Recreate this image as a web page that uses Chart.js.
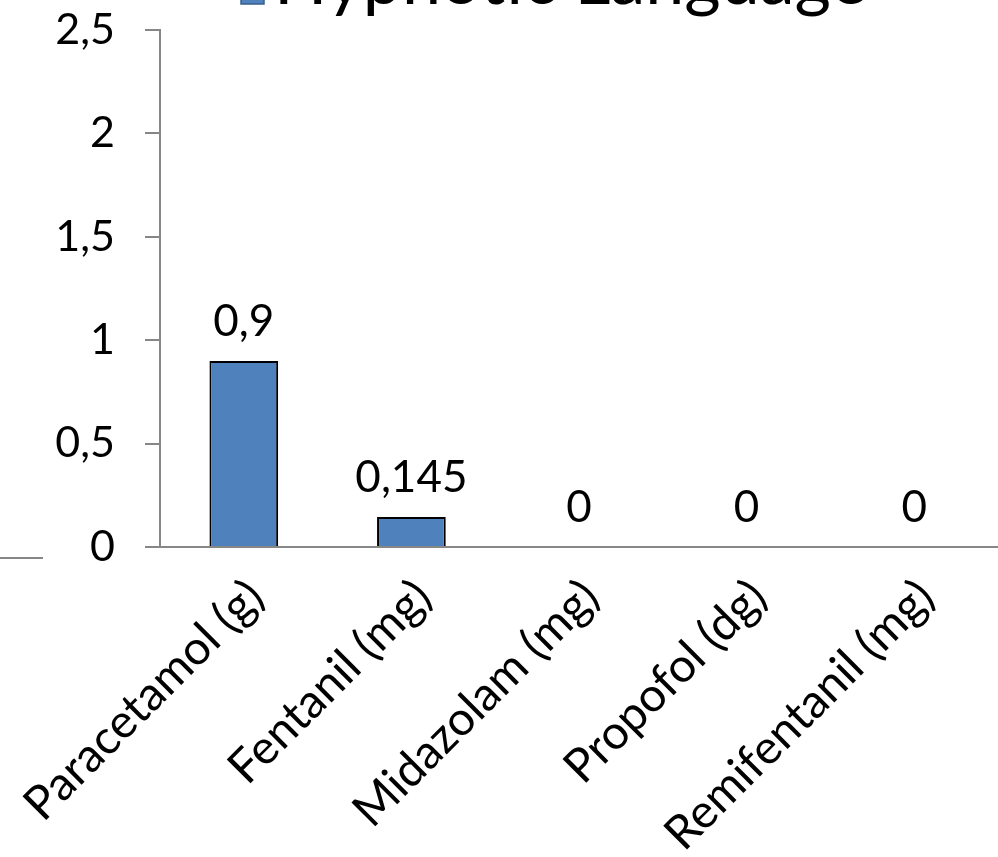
<!DOCTYPE html>
<html>
<head>
<meta charset="utf-8">
<script src="https://cdn.jsdelivr.net/npm/chart.js@4.4.0/dist/chart.umd.min.js"></script>
<style>
  html, body { margin: 0; padding: 0; background: #fff; }
  #wrap { width: 998px; height: 857px; position: relative; }
</style>
</head>
<body>
<div id="wrap"><canvas id="myChart"></canvas></div>
<script>
// DATI
const categorie = ["Paracetamol (g)", "Fentanil (mg)", "Midazolam (mg)", "Propofol (dg)", "Remifentanil (mg)"]
const valori = [0.9, 0.145, 0, 0, 0]
const nomeSerie = "Hypnotic Language"
const tickY = [0, 0.5, 1, 1.5, 2, 2.5]

const FONT = "Lato, 'Open Sans', sans-serif"
const GRIGIO = "#878787"
const BLU = "#4F81BD"
const virgola = (v) => String(v).replace(".", ",")

// VALORI SOPRA LE BARRE
const etichette = {
  id: "etichette",
  afterDatasetsDraw(chart) {
    const ctx = chart.ctx
    const meta = chart.getDatasetMeta(0)
    ctx.save()
    ctx.font = "44px " + FONT
    ctx.fillStyle = "#000"
    ctx.textAlign = "center"
    ctx.textBaseline = "alphabetic"
    meta.data.forEach((bar, i) => {
      ctx.fillText(virgola(valori[i]), bar.x, bar.y - 25)
    })
    ctx.restore()
  },
}

// LEGENDA (tagliata dal bordo superiore)
const legenda = {
  id: "legenda",
  afterDraw(chart) {
    const ctx = chart.ctx
    const area = chart.chartArea
    const ds = chart.data.datasets[0]
    const x = area.left + 81
    ctx.save()
    ctx.fillStyle = ds.backgroundColor
    ctx.fillRect(x, -20, 23, 24)
    ctx.strokeStyle = "#385d8a"
    ctx.lineWidth = 1.5
    ctx.strokeRect(x, -20, 23, 24)
    ctx.font = "70px " + FONT
    ctx.fillStyle = "#000"
    ctx.textAlign = "left"
    ctx.textBaseline = "alphabetic"
    ctx.fillText(ds.label, x + 33, 4)
    // trattino grigio a sinistra
    const y0 = chart.scales.y.getPixelForValue(0) + 11
    ctx.strokeStyle = GRIGIO
    ctx.lineWidth = 2
    ctx.beginPath()
    ctx.moveTo(0, y0)
    ctx.lineTo(43, y0)
    ctx.stroke()
    ctx.restore()
  },
}

new Chart(document.getElementById("myChart"), {
  type: "bar",
  data: {
    labels: categorie,
    datasets: [
      {
        label: nomeSerie,
        data: valori,
        backgroundColor: BLU,
        borderColor: "#000",
        borderWidth: 2,
        barPercentage: 0.41,
        categoryPercentage: 1,
      },
    ],
  },
  options: {
    responsive: true,
    maintainAspectRatio: false,
    animation: false,
    layout: { padding: { top: 30, left: 0, right: 0, bottom: 0 } },
    plugins: {
      legend: { display: false },
      tooltip: { enabled: false },
    },
    scales: {
      x: {
        grid: { drawOnChartArea: false, drawTicks: false },
        border: { color: GRIGIO, width: 2 },
        ticks: {
          color: "#000",
          font: { family: FONT, size: 47 },
          minRotation: 45,
          maxRotation: 45,
          padding: 22,
          labelOffset: 12,
        },
        afterFit: (s) => {
          s.height = 310
          s.paddingLeft = 0
          s.paddingRight = 0
        },
      },
      y: {
        min: 0,
        max: 2.5,
        grid: { drawOnChartArea: false, tickLength: 15, color: GRIGIO, lineWidth: 2 },
        border: { color: GRIGIO, width: 2 },
        ticks: {
          color: "#000",
          font: { family: FONT, size: 43 },
          padding: 30,
          callback: (v) => virgola(v),
        },
        afterBuildTicks: (s) => {
          s.ticks = tickY.map((v) => ({ value: v }))
        },
        afterFit: (s) => {
          s.width = 160
          s.paddingTop = 0
          s.paddingBottom = 0
        },
      },
    },
  },
  plugins: [etichette, legenda],
})
</script>
</body>
</html>
